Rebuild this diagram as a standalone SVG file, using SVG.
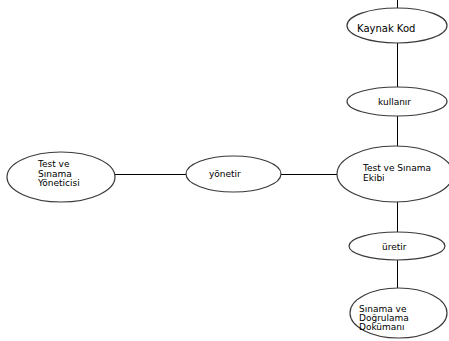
<svg xmlns="http://www.w3.org/2000/svg" width="449" height="341" viewBox="0 0 449 341">
  <style>
    .node ellipse { fill: #ffffff; stroke: #3a3a3a; stroke-width: 1.2; }
    .node text { font-family: "DejaVu Sans", Verdana, sans-serif; font-size: 9px; fill: #000000; }
    #connectors line { stroke: #000000; stroke-width: 1; }
  </style>
  <rect width="449" height="341" fill="#ffffff"/>

  <!-- connectors -->
  <g id="connectors">
    <line x1="397.5" y1="0" x2="397.5" y2="8"/>
    <line x1="397.5" y1="43" x2="397.5" y2="87"/>
    <line x1="397.5" y1="116" x2="397.5" y2="146"/>
    <line x1="397.5" y1="202" x2="397.5" y2="232"/>
    <line x1="397.5" y1="260" x2="397.5" y2="288"/>
    <line x1="115" y1="174.5" x2="186" y2="174.5"/>
    <line x1="281" y1="174.5" x2="337" y2="174.5"/>
  </g>

  <g id="kaynak-kod" class="node">
    <ellipse cx="397" cy="25.5" rx="50" ry="17.5"/>
    <text x="357" y="32" style="font-size:10px">Kaynak Kod</text>
  </g>

  <g id="kullanir" class="node">
    <ellipse cx="397" cy="101.5" rx="50" ry="14.5"/>
    <text x="378" y="105">kullanır</text>
  </g>

  <g id="test-sinama-ekibi" class="node">
    <ellipse cx="395" cy="174" rx="58" ry="28"/>
    <text x="363" y="171">Test ve Sınama</text>
    <text x="363" y="181">Ekibi</text>
  </g>

  <g id="uretir" class="node">
    <ellipse cx="397" cy="246" rx="48" ry="14"/>
    <text x="382" y="250">üretir</text>
  </g>

  <g id="sinama-dogrulama" class="node">
    <ellipse cx="398.5" cy="313" rx="48.5" ry="25"/>
    <text x="359" y="312">Sınama ve</text>
    <text x="359" y="321">Doğrulama</text>
    <text x="359" y="330">Dokümanı</text>
  </g>

  <g id="yonetir" class="node">
    <ellipse cx="233.5" cy="174" rx="47.5" ry="18"/>
    <text x="209" y="177">yönetir</text>
  </g>

  <g id="test-sinama-yoneticisi" class="node">
    <ellipse cx="61" cy="177" rx="54" ry="25"/>
    <text x="38" y="167">Test ve</text>
    <text x="38" y="177">Sınama</text>
    <text x="38" y="186">Yöneticisi</text>
  </g>
</svg>
